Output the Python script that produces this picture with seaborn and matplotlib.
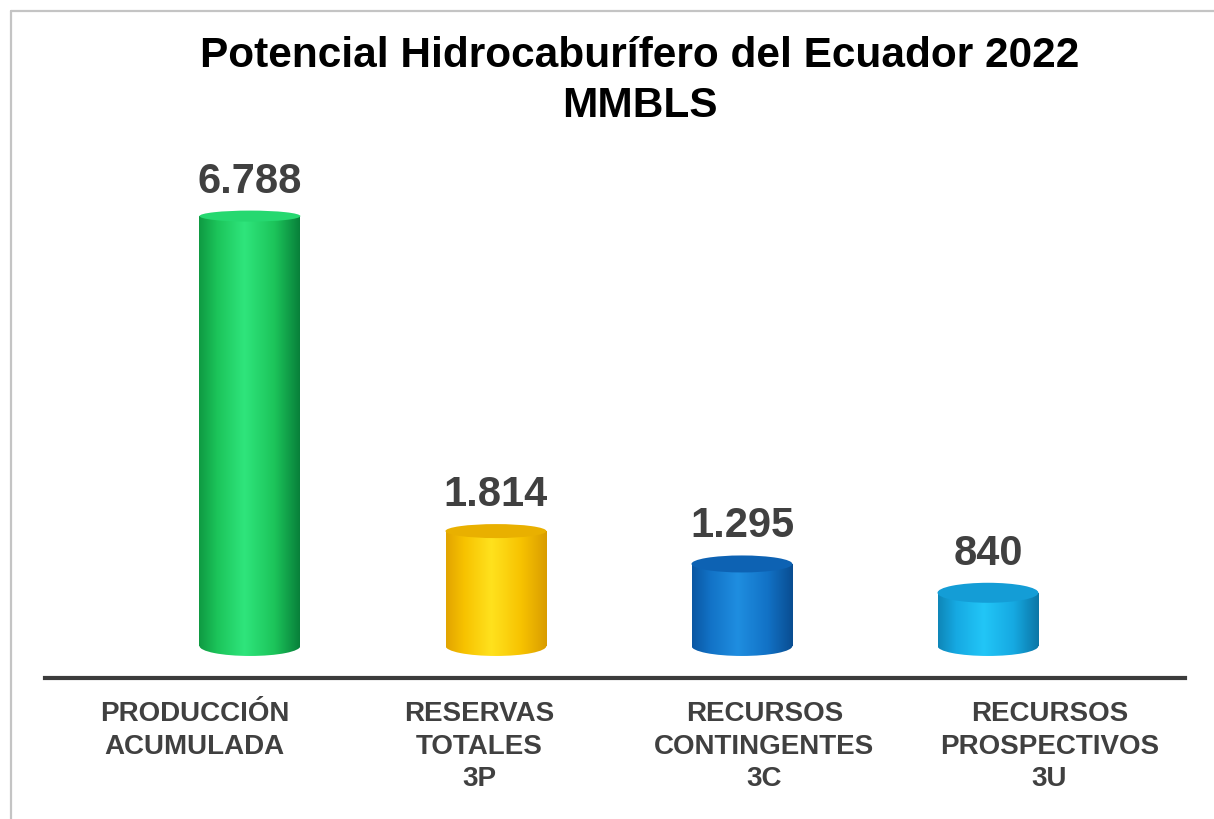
import numpy as np
import matplotlib
matplotlib.use("Agg")
import matplotlib.pyplot as plt
import seaborn as sns
import pandas as pd
from matplotlib.patches import Ellipse, Rectangle
from matplotlib.colors import LinearSegmentedColormap
from matplotlib.lines import Line2D

# ---------------- data ----------------
categories = ["PRODUCCIÓN\nACUMULADA", "RESERVAS\nTOTALES\n3P",
              "RECURSOS\nCONTINGENTES\n3C", "RECURSOS\nPROSPECTIVOS\n3U"]
values = [6788, 1814, 1295, 840]
value_labels = ["6.788", "1.814", "1.295", "840"]
title_line1 = "Potencial Hidrocaburífero del Ecuador 2022"
title_line2 = "MMBLS"

# ---------------- style ----------------
mid_colors = ["#1cc45a", "#f7c200", "#1272c6", "#16a9e2"]
dark_left = ["#0f9a42", "#e2a400", "#0a57a3", "#0e86b8"]
highlight = ["#2fe57c", "#ffe21e", "#1f8ee0", "#22c6f7"]
dark_right = ["#08803a", "#d99c00", "#094d91", "#0b76a6"]
top_colors = ["#26d870", "#e9b000", "#0d62b3", "#149dd6"]
text_gray = "#404040"

sns.set_theme(style="white")
plt.rcParams["font.family"] = ["Liberation Sans", "DejaVu Sans"]

W, H = 1214, 819
fig = plt.figure(figsize=(W / 100, H / 100), dpi=100)
fig.patch.set_facecolor("white")

ax_left_px, ax_right_px = 45, 1185
ax_bottom_px, ax_top_px = 671.3, 152
ax = fig.add_axes([ax_left_px / W, 1 - ax_bottom_px / H,
                   (ax_right_px - ax_left_px) / W, (ax_bottom_px - ax_top_px) / H])

df = pd.DataFrame({"cat": categories, "val": values})
sns.barplot(data=df, x="cat", y="val", hue="cat", palette=mid_colors,
            width=0.41, saturation=1, legend=False, ax=ax)

xmin, xmax = -0.833, 3.801
ax.set_xlim(xmin, xmax)
ax.set_ylim(-400, 7800)

ypx_per_unit = (ax_bottom_px - ax_top_px) / (7800 + 400)

def px_to_dy(px):
    return px / ypx_per_unit

bottom_eh = px_to_dy(20)
for i, cont in enumerate(ax.containers):
    bar = cont[0]
    x0, w, h = bar.get_x(), bar.get_width(), bar.get_height()
    xc = x0 + w / 2
    bar.set_alpha(0)
    top_px = 11 + 3.0 * i
    top_eh = px_to_dy(top_px)
    cmap = LinearSegmentedColormap.from_list(
        f"cyl{i}", [(0, dark_left[i]), (0.18, mid_colors[i]), (0.45, highlight[i]),
                    (0.75, mid_colors[i]), (1, dark_right[i])])
    grad = np.linspace(0, 1, 256)[None, :]
    body = Rectangle((x0, 0), w, h, transform=ax.transData)
    im1 = ax.imshow(grad, cmap=cmap, extent=(x0, x0 + w, -bottom_eh, h),
                    aspect="auto", zorder=3, interpolation="bilinear")
    im1.set_clip_path(body)
    base = Ellipse((xc, 0), w, bottom_eh, transform=ax.transData)
    im2 = ax.imshow(grad, cmap=cmap, extent=(x0, x0 + w, -bottom_eh, h),
                    aspect="auto", zorder=3, interpolation="bilinear")
    im2.set_clip_path(base)
    ax.add_patch(Ellipse((xc, h), w, top_eh, facecolor=top_colors[i],
                         edgecolor="none", zorder=4))
    off_px = top_px / 2 + 18
    ax.annotate(value_labels[i], (xc, h), xytext=(0, off_px * 0.72),
                textcoords="offset points", ha="center", va="baseline",
                fontsize=30, fontweight="bold", color=text_gray, zorder=5)

ax.set_xlim(xmin, xmax)
ax.set_ylim(-400, 7800)

# category labels centred in equal slots along the axis
tick_pos = [xmin + ((k + 0.5) / 4 + 0.006) * (xmax - xmin) for k in range(len(categories))]
ax.set_xticks(tick_pos)
ax.set_xticklabels([""] * len(categories))
ax.tick_params(axis="x", length=0)
for k, lab in enumerate(categories):
    ax.annotate(lab, (tick_pos[k], 0), xycoords=ax.get_xaxis_transform(),
                xytext=(0, -21.5), textcoords="offset points",
                ha="center", va="top", fontsize=20, fontweight="bold",
                color=text_gray, linespacing=1.32, annotation_clip=False)
ax.set_yticks([])
ax.set_xlabel("")
ax.set_ylabel("")
for s in ["top", "left", "right"]:
    ax.spines[s].set_visible(False)
ax.spines["bottom"].set_position(("outward", 4.8))
ax.spines["bottom"].set_color("#3c3c3c")
ax.spines["bottom"].set_linewidth(3)
ax.set_facecolor("none")

# title
fig.text(640 / W, 1 - 67 / H, title_line1, ha="center", va="baseline",
         fontsize=30.5, fontweight="bold", color="black")
fig.text(640 / W, 1 - 117 / H, title_line2, ha="center", va="baseline",
         fontsize=30.5, fontweight="bold", color="black")

# frame (top and left edges visible)
fig.add_artist(Line2D([11 / W, 1], [1 - 11 / H, 1 - 11 / H], transform=fig.transFigure,
                      color="#c4c4c4", lw=1.6))
fig.add_artist(Line2D([11 / W, 11 / W], [0, 1 - 11 / H], transform=fig.transFigure,
                      color="#c4c4c4", lw=1.6))

fig.savefig("out.png", dpi=100, facecolor="white")
